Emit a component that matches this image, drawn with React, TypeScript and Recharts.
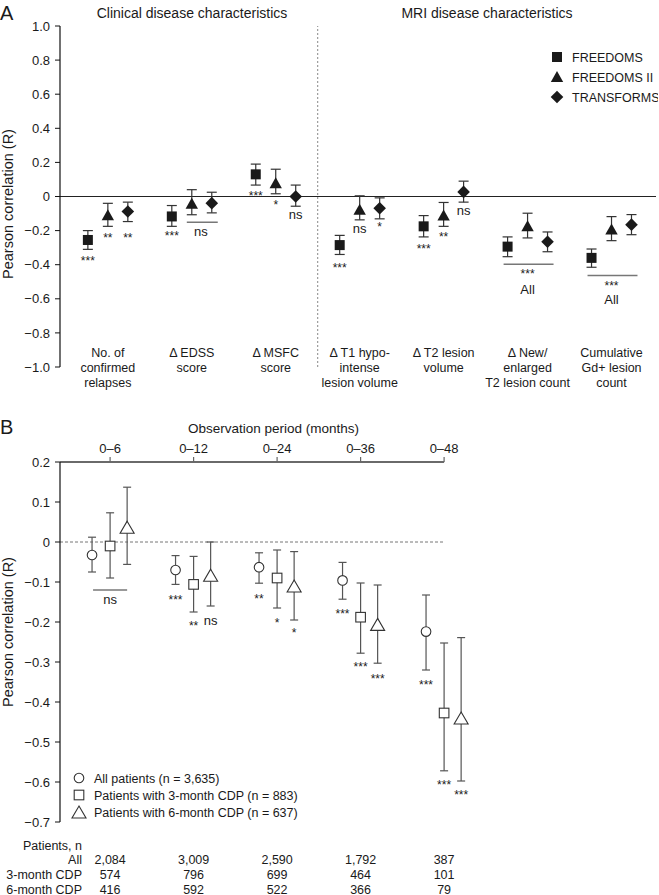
import React from 'react';
import { ScatterChart, Scatter, XAxis, YAxis, ErrorBar, ReferenceLine, Legend } from 'recharts';

const FONT = '"Liberation Sans", Arial, Helvetica, sans-serif';
const INK = '#1a1a1a';

// ---------- Panel A ----------
const categoriesA = [
	['No. of', 'confirmed', 'relapses'],
	['Δ EDSS', 'score'],
	['Δ MSFC', 'score'],
	['Δ T1 hypo-', 'intense', 'lesion volume'],
	['Δ T2 lesion', 'volume'],
	['Δ New/', 'enlarged', 'T2 lesion count'],
	['Cumulative', 'Gd+ lesion', 'count'],
];
const ticksA = [1, 0.8, 0.6, 0.4, 0.2, 0, -0.2, -0.4, -0.6, -0.8, -1];

const freedomsR = [-0.255, -0.117, 0.13, -0.285, -0.175, -0.294, -0.36];
const freedomsLo = [-0.31, -0.175, 0.067, -0.34, -0.237, -0.353, -0.415];
const freedomsHi = [-0.2, -0.053, 0.19, -0.228, -0.112, -0.237, -0.308];

const freedoms2R = [-0.11, -0.043, 0.078, -0.077, -0.112, -0.175, -0.194];
const freedoms2Lo = [-0.175, -0.107, 0.016, -0.137, -0.175, -0.243, -0.259];
const freedoms2Hi = [-0.04, 0.04, 0.16, 0.004, -0.035, -0.098, -0.118];

const transformsR = [-0.088, -0.039, 0.0, -0.069, 0.027, -0.265, -0.165];
const transformsLo = [-0.147, -0.096, -0.057, -0.131, -0.033, -0.324, -0.224];
const transformsHi = [-0.033, 0.025, 0.067, -0.008, 0.09, -0.208, -0.106];

// [category, slot, y, label]
const sigA: [number, number, number, string][] = [
	[0, -1, -0.363, '***'], [0, 0, -0.224, '**'], [0, 1, -0.224, '**'],
	[1, -1, -0.214, '***'], [1, 0.45, -0.214, 'ns'],
	[2, -1, 0.021, '***'], [2, 0, -0.034, '*'], [2, 1, -0.112, 'ns'],
	[3, -1, -0.4, '***'], [3, 0, -0.196, 'ns'], [3, 1, -0.161, '*'],
	[4, -1, -0.288, '***'], [4, 0, -0.219, '**'], [4, 1, -0.088, 'ns'],
	[5, 0, -0.435, '***'], [5, 0, -0.543, 'All'],
	[6, 0, -0.506, '***'], [6, 0, -0.602, 'All'],
];
// [category, slot from, slot to, y]
const bracketsA: [number, number, number, number][] = [
	[1, -0.25, 1.3, -0.151],
	[5, -1.2, 1.3, -0.398],
	[6, -1.2, 1.3, -0.463],
];

// ---------- Panel B ----------
const periods = ['0–6', '0–12', '0–24', '0–36', '0–48'];
const ticksB = [0.2, 0.1, 0, -0.1, -0.2, -0.3, -0.4, -0.5, -0.6, -0.7];

const allR = [-0.0325, -0.07, -0.063, -0.096, -0.224];
const allLo = [-0.075, -0.106, -0.103, -0.143, -0.32];
const allHi = [0.012, -0.034, -0.027, -0.051, -0.1325];

const cdp3R = [-0.01, -0.106, -0.09, -0.188, -0.4275];
const cdp3Lo = [-0.09, -0.175, -0.165, -0.278, -0.572];
const cdp3Hi = [0.073, -0.036, -0.02, -0.1025, -0.2525];

const cdp6R = [0.037, -0.083, -0.11, -0.206, -0.44];
const cdp6Lo = [-0.056, -0.16, -0.195, -0.303, -0.5975];
const cdp6Hi = [0.137, 0, -0.024, -0.1075, -0.239];

const sigB: [number, number, number, string][] = [
	[0, 0, -0.1475, 'ns'],
	[1, -1.06, -0.1375, '***'], [1, 0, -0.2025, '**'], [1, 1, -0.2, 'ns'],
	[2, -1.06, -0.135, '**'], [2, 0, -0.195, '*'], [2, 1, -0.22, '*'],
	[3, -1.06, -0.1725, '***'], [3, 0, -0.305, '***'], [3, 1, -0.335, '***'],
	[4, -1.06, -0.349, '***'], [4, 0, -0.599, '***'], [4, 1, -0.624, '***'],
];
const bracketsB: [number, number, number, number][] = [[0, -1, 1, -0.12]];

const patientsAll = ['2,084', '3,009', '2,590', '1,792', '387'];
const patients3m = ['574', '796', '699', '464', '101'];
const patients6m = ['416', '592', '522', '366', '79'];
const patientRows = [
	{ label: 'All', values: patientsAll },
	{ label: '3-month CDP', values: patients3m },
	{ label: '6-month CDP', values: patients6m },
];

const SLOT_A = 0.238;
const SLOT_B = 0.204;

const studiesA = [
	{ name: 'FREEDOMS', kind: 'square', slot: -1, r: freedomsR, lo: freedomsLo, hi: freedomsHi },
	{ name: 'FREEDOMS II', kind: 'triangle', slot: 0, r: freedoms2R, lo: freedoms2Lo, hi: freedoms2Hi },
	{ name: 'TRANSFORMS', kind: 'diamond', slot: 1, r: transformsR, lo: transformsLo, hi: transformsHi },
];
const groupsB = [
	{ name: 'All patients (n = 3,635)', kind: 'circle', slot: -1.06, r: allR, lo: allLo, hi: allHi },
	{ name: 'Patients with 3-month CDP (n = 883)', kind: 'square', slot: 0, r: cdp3R, lo: cdp3Lo, hi: cdp3Hi },
	{ name: 'Patients with 6-month CDP (n = 637)', kind: 'triangle', slot: 1, r: cdp6R, lo: cdp6Lo, hi: cdp6Hi },
];

const toPoints = (s: any, slotW: number) =>
	s.r.map((y: number, i: number) => ({ x: i + s.slot * slotW, y, err: [y - s.lo[i], s.hi[i] - y] }));
const toLabels = (rows: [number, number, number, string][], slotW: number) =>
	rows.map(([c, slot, y, text]) => ({ x: c + slot * slotW, y, text }));

const fmt = (v: number) => (v === 0 ? '0' : v.toFixed(1).replace('-', '−'));

const markA = (kind: string, cx: number, cy: number) => {
	if (kind === 'square') return <rect x={cx - 5} y={cy - 5} width={10} height={10} fill={INK} />;
	if (kind === 'triangle')
		return <polygon points={`${cx},${cy - 6} ${cx + 6.2},${cy + 5} ${cx - 6.2},${cy + 5}`} fill={INK} />;
	return <polygon points={`${cx},${cy - 6.3} ${cx + 6.3},${cy} ${cx},${cy + 6.3} ${cx - 6.3},${cy}`} fill={INK} />;
};

const markB = (kind: string, cx: number, cy: number) => {
	const st = { fill: '#fff', stroke: '#333', strokeWidth: 1.1 };
	if (kind === 'circle') return <circle cx={cx} cy={cy} r={4.8} {...st} />;
	if (kind === 'square') return <rect x={cx - 4.8} y={cy - 4.8} width={9.6} height={9.6} {...st} />;
	return <polygon points={`${cx},${cy - 6} ${cx + 7},${cy + 6} ${cx - 7},${cy + 6}`} {...st} />;
};

const shiftFor = (t: string) => (t.startsWith('*') ? 0.575 : t === 'ns' ? 0.26 : 0.36);

const SigText = (p: any) => {
	const t = p.payload?.text ?? p.text;
	if (p.cx == null || !t) return <g />;
	const fs = t.startsWith('*') ? 12 : 13;
	return (
		<text x={p.cx} y={p.cy + shiftFor(t) * fs} textAnchor="middle" fontSize={fs} fill={INK} fontFamily={FONT}>
			{t}
		</text>
	);
};

const CategoryTick = ({ x, y, payload }: any) => {
	const lines = categoriesA[Math.round(payload.value)] || [];
	return (
		<text textAnchor="middle" fontSize={12.5} fill={INK} fontFamily={FONT}>
			{lines.map((l, i) => (
				<tspan key={i} x={x} y={y - 10.5 + i * 15}>{l}</tspan>
			))}
		</text>
	);
};

const TableTick = ({ x, y, payload }: any) => {
	const i = Math.round(payload.value);
	return (
		<g>
			{patientRows.map((row, r) => (
				<text key={r} x={x} y={y + 41.5 + r * 15} textAnchor="middle" fontSize={12.5} fill={INK} fontFamily={FONT}>
					{row.values[i]}
				</text>
			))}
		</g>
	);
};

const LegendA = () => (
	<svg width={110} height={62} style={{ display: 'block' }}>
		{studiesA.map((s, i) => (
			<g key={s.name}>
				{markA(s.kind, 9, 10 + i * 20)}
				<text x={24} y={14.5 + i * 20} fontSize={12.5} fill={INK} fontFamily={FONT}>{s.name}</text>
			</g>
		))}
	</svg>
);

const LegendB = () => (
	<svg width={260} height={52} style={{ display: 'block' }}>
		{groupsB.map((s, i) => (
			<g key={s.name}>
				{markB(s.kind, 9, 8 + i * 17)}
				<text x={24} y={12.5 + i * 17} fontSize={12.5} fill={INK} fontFamily={FONT}>{s.name}</text>
			</g>
		))}
	</svg>
);

const tickStyle = { fontSize: 13, fill: INK, fontFamily: FONT };

export default function App() {
	return (
		<div style={{ position: 'relative', width: 659, height: 895, background: '#fff', fontFamily: FONT }}>
			<style>{'body{margin:0}'}</style>

			<div style={{ position: 'absolute', left: 0, top: 0 }}>
				<ScatterChart width={659} height={400} margin={{ top: 26, right: 3, bottom: 3, left: 0 }}>
					<XAxis
						type="number"
						dataKey="x"
						domain={[-0.57, 6.53]}
						ticks={[0, 1, 2, 3, 4, 5, 6]}
						interval={0}
						allowDataOverflow
						height={30}
						axisLine={false}
						tickLine={false}
						tickSize={0}
						tickMargin={0}
						tick={(props: any) => <CategoryTick {...props} />}
					/>
					<YAxis
						type="number"
						dataKey="y"
						domain={[-1, 1]}
						ticks={ticksA}
						interval={0}
						allowDataOverflow
						width={60}
						tickFormatter={fmt}
						axisLine={{ stroke: '#111', strokeWidth: 1.2 }}
						tickLine={{ stroke: '#111' }}
						tickSize={5}
						tickMargin={5}
						tick={tickStyle}
					/>
					<ReferenceLine y={0} stroke="#222" strokeWidth={1.1} />
					<ReferenceLine x={2.5} stroke="#888" strokeDasharray="2 2" />
					{bracketsA.map(([c, a, b, y], i) => (
						<ReferenceLine
							key={i}
							segment={[{ x: c + a * SLOT_A, y }, { x: c + b * SLOT_A, y }]}
							stroke="#777"
							strokeWidth={1.5}
						/>
					))}
					{studiesA.map((s) => (
						<Scatter
							key={s.name}
							name={s.name}
							data={toPoints(s, SLOT_A)}
							isAnimationActive={false}
							shape={(p: any) => (p.cx == null ? <g /> : markA(s.kind, p.cx, p.cy))}
						>
							<ErrorBar dataKey="err" direction="y" width={5} stroke="#333" strokeWidth={1.2} />
						</Scatter>
					))}
					<Scatter data={toLabels(sigA, SLOT_A)} isAnimationActive={false} shape={SigText} legendType="none" />
					<Legend
						layout="vertical"
						align="center"
						verticalAlign="middle"
						wrapperStyle={{ top: 47, left: 548, width: 110 }}
						content={() => <LegendA />}
					/>
				</ScatterChart>
			</div>

			<div style={{ position: 'absolute', left: 0, top: 400 }}>
				<ScatterChart width={659} height={495} margin={{ top: 32, right: 181.5, bottom: 0, left: 0 }}>
					<XAxis
						xAxisId="top"
						orientation="top"
						type="number"
						dataKey="x"
						domain={[-0.6, 4.4]}
						ticks={[0, 1, 2, 3, 4]}
						interval={0}
						allowDataOverflow
						height={30}
						axisLine={false}
						tickLine={{ stroke: '#666', strokeWidth: 1.2 }}
						tickSize={5}
						tickMargin={4}
						tickFormatter={(v: number) => periods[Math.round(v)]}
						tick={tickStyle}
					/>
					<XAxis
						xAxisId="table"
						orientation="bottom"
						type="number"
						dataKey="x"
						domain={[-0.6, 4.4]}
						ticks={[0, 1, 2, 3, 4]}
						interval={0}
						allowDataOverflow
						height={73}
						axisLine={false}
						tickLine={false}
						tickSize={0}
						tickMargin={0}
						tick={(props: any) => <TableTick {...props} />}
					/>
					<YAxis
						type="number"
						dataKey="y"
						domain={[-0.7, 0.2]}
						ticks={ticksB}
						interval={0}
						allowDataOverflow
						width={60}
						tickFormatter={fmt}
						axisLine={{ stroke: '#111', strokeWidth: 1.2 }}
						tickLine={{ stroke: '#111' }}
						tickSize={5}
						tickMargin={5}
						tick={tickStyle}
					/>
					<ReferenceLine
						xAxisId="top"
						segment={[{ x: -0.6, y: 0.2 }, { x: 4, y: 0.2 }]}
						stroke="#6a6a6a"
						strokeWidth={2}
					/>
					<ReferenceLine
						xAxisId="top"
						segment={[{ x: -0.6, y: 0 }, { x: 4, y: 0 }]}
						stroke="#777"
						strokeDasharray="3 2"
					/>
					{bracketsB.map(([c, a, b, y], i) => (
						<ReferenceLine
							key={i}
							xAxisId="top"
							segment={[{ x: c + a * SLOT_B, y }, { x: c + b * SLOT_B, y }]}
							stroke="#777"
							strokeWidth={1.5}
						/>
					))}
					{groupsB.map((s) => (
						<Scatter
							key={s.name}
							name={s.name}
							xAxisId="top"
							data={toPoints(s, SLOT_B)}
							isAnimationActive={false}
							shape={(p: any) => (p.cx == null ? <g /> : markB(s.kind, p.cx, p.cy))}
						>
							<ErrorBar dataKey="err" direction="y" width={4} stroke="#555" strokeWidth={1.2} />
						</Scatter>
					))}
					<Scatter xAxisId="top" data={toLabels(sigB, SLOT_B)} isAnimationActive={false} shape={SigText} legendType="none" />
					<Legend
						layout="vertical"
						align="center"
						verticalAlign="middle"
						wrapperStyle={{ top: 370, left: 70, width: 260 }}
						content={() => <LegendB />}
					/>
				</ScatterChart>
			</div>

			<svg
				width={659}
				height={895}
				style={{ position: 'absolute', left: 0, top: 0, pointerEvents: 'none' }}
				fontFamily={FONT}
				fill={INK}
			>
				<text x={0} y={20} fontSize={20}>A</text>
				<text x={192} y={18} fontSize={14} textAnchor="middle">Clinical disease characteristics</text>
				<text x={487} y={18} fontSize={14} textAnchor="middle">MRI disease characteristics</text>
				<text transform="translate(13,204) rotate(-90)" fontSize={14.5} textAnchor="middle">Pearson correlation (R)</text>
				<text x={0} y={434} fontSize={20}>B</text>
				<text x={273.5} y={433} fontSize={13.5} textAnchor="middle">Observation period (months)</text>
				<text transform="translate(13,632) rotate(-90)" fontSize={14.5} textAnchor="middle">Pearson correlation (R)</text>
				<text x={82} y={849.5} fontSize={12.5} textAnchor="end">Patients, n</text>
				{patientRows.map((row, r) => (
					<text key={row.label} x={82} y={863.5 + r * 15} fontSize={12.5} textAnchor="end">{row.label}</text>
				))}
			</svg>
		</div>
	);
}
